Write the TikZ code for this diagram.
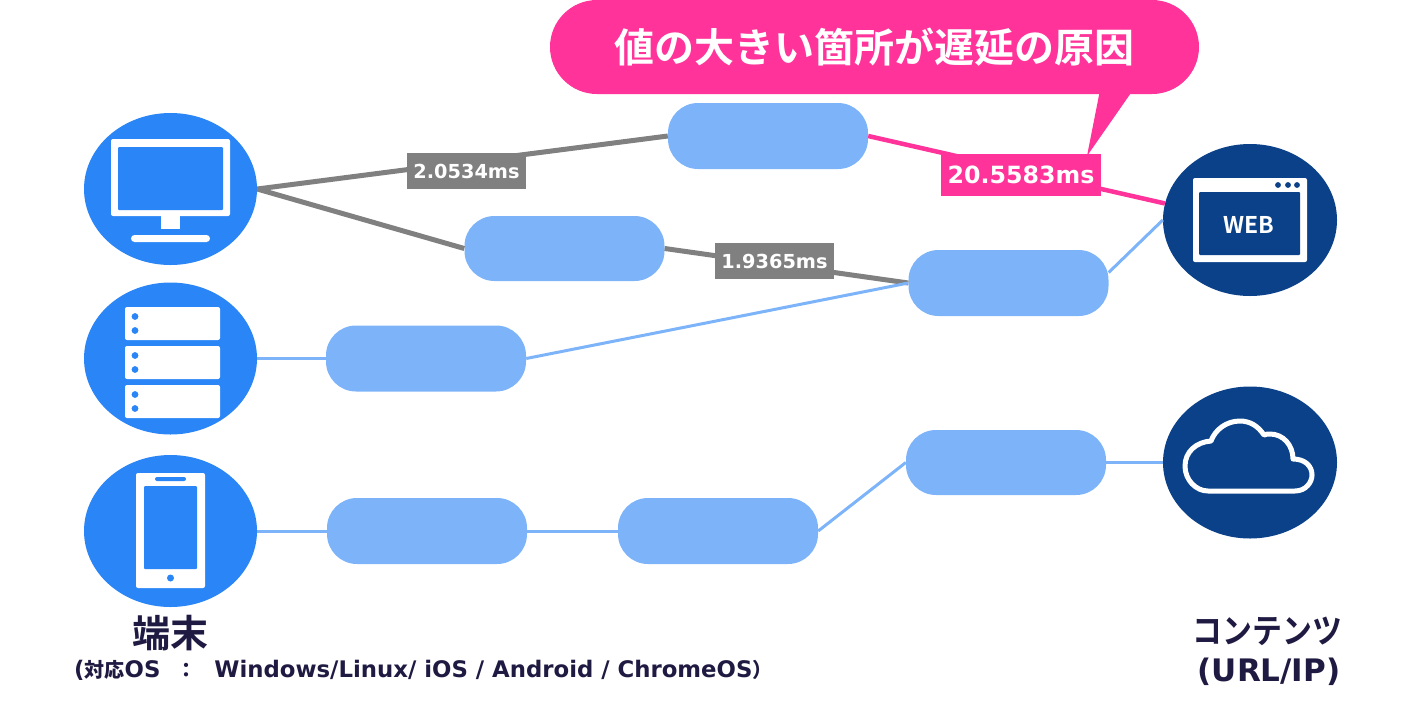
\documentclass[tikz,border=0pt]{standalone}
\usepackage{fontspec}
\usetikzlibrary{shapes.geometric}
\setmainfont{DejaVu Sans}
\newfontfamily\cjk{Noto Sans CJK JP Bold}
\definecolor{devblue}{HTML}{2A85F6}
\definecolor{navy}{HTML}{0A4189}
\definecolor{pale}{HTML}{7DB4F9}
\definecolor{hot}{HTML}{FF3399}
\definecolor{greyline}{HTML}{808080}
\definecolor{ink}{HTML}{1F1A42}
\newcommand{\fs}[1]{\fontsize{#1}{#1}\selectfont}
\tikzset{
  dev/.style={ellipse,fill=devblue,minimum width=173pt,minimum height=152pt,inner sep=0pt},
  dst/.style={ellipse,fill=navy,minimum width=174pt,minimum height=152pt,inner sep=0pt},
  hop/.style={rectangle,fill=pale,rounded corners=30pt,minimum width=200pt,minimum height=66pt,inner sep=0pt},
  paleline/.style={draw=pale,line width=3pt},
  greyl/.style={draw=greyline,line width=5pt},
  hotl/.style={draw=hot,line width=4.5pt},
  msg/.style={rectangle,fill=greyline,text=white,font=\fs{19.3}\bfseries,minimum width=119pt,minimum height=36pt,inner sep=0pt},
  ink1/.style={fill=white,rounded corners=2pt},
  ink2/.style={text=ink,inner sep=0pt}
}
\begin{document}
\begin{tikzpicture}[x=1pt,y=-1pt]
\useasboundingbox (0,0) rectangle (1405,705);
% devices and destinations
\node[dev] (desk) at (170.5,189) {};
\node[dev] (srv) at (170.5,358.5) {};
\node[dev] (phone) at (170.5,531) {};
\node[dst] (web) at (1250,220) {};
\node[dst] (cloud) at (1250,462.5) {};
% hops
\node[hop] (h1) at (768,136) {};
\node[hop,minimum height=65pt] (h2) at (564.5,248.5) {};
\node[hop] (h3) at (1008.5,283) {};
\node[hop] (h4) at (426,358.5) {};
\node[hop] (h5) at (427,531) {};
\node[hop] (h6) at (718,531) {};
\node[hop,minimum height=65pt] (h7) at (1006,462.5) {};
% connectors
\draw[greyl] (desk.east) -- (h1.west);
\draw[greyl] (desk.east) -- (h2.west);
\draw[greyl] (h2.east) -- (h3.west);
\draw[hotl] (h1.east) -- (web.169);
\draw[paleline] (srv.east) -- (h4.west);
\draw[paleline] (h4.east) -- (h3.west);
\draw[paleline] (h3.6) -- (web.west);
\draw[paleline] (phone.east) -- (h5.west);
\draw[paleline] (h5.east) -- (h6.west);
\draw[paleline] (h6.east) -- (h7.west);
\draw[paleline] (h7.east) -- (cloud.west);
% callout
\coordinate (tipA) at (1100,90);
\coordinate (tipB) at (1133,90);
\coordinate (tipC) at (1087,156);
\node[rectangle,fill=hot,rounded corners=47pt,minimum width=649pt,minimum height=94pt,inner sep=0pt,text=white,font=\cjk\fs{40}] (call) at (874.5,47) {値の大きい箇所が遅延の原因};
\fill[hot] (tipA) -- (tipB) -- (tipC) -- cycle;
% delay labels
\node[msg] (m1) at (466.5,171) {2.0534ms};
\node[msg] (m2) at (774.5,261) {1.9365ms};
\node[msg,fill=hot,font=\fs{23.7}\bfseries,minimum width=160pt,minimum height=42pt] (m3) at (1021,175) {20.5583ms};
% desktop icon
\fill[ink1] (111,139) rectangle (230,216);
\fill[devblue,rounded corners=1pt] (118,147) rectangle (223,210);
\fill[white] (161,216) rectangle (180,229);
\fill[white,rounded corners=3.5pt] (131,235) rectangle (210,242);
% server icon
\foreach \t/\u in {307/316.5,346/355.5,385/394.5}{
  \fill[ink1] (125,\t) rectangle (220,\t+33);
  \fill[devblue] (135,\u) circle[radius=3.4pt];
  \fill[devblue] (135,\u+14) circle[radius=3.4pt];
}
% phone icon
\fill[ink1] (136,473) rectangle (205,588);
\fill[devblue,rounded corners=1pt] (144,486) rectangle (197,569);
\fill[devblue,rounded corners=2pt] (155,477) rectangle (186,481);
\fill[devblue] (170.5,578) circle[radius=3.5pt];
% web icon
\fill[ink1] (1193,178) rectangle (1307,262);
\fill[navy,rounded corners=1pt] (1199,192) rectangle (1300,255);
\foreach \x in {1278,1288,1297}{\fill[navy] (\x,185) circle[radius=2.9pt];}
\node[text=white,inner sep=0pt,font=\cjk\fs{23}] (webtxt) at (1249,225) {WEB};
% cloud icon
\draw[white,line width=5pt,line join=round] (1208,491) -- (1295,491)
  .. controls (1306,491) and (1312,482) .. (1312,475)
  .. controls (1312,466) and (1305,459) .. (1293,459)
  .. controls (1293,445) and (1283,434) .. (1270,434)
  .. controls (1268,434) and (1266,434) .. (1264,435)
  .. controls (1258,426) and (1250,421) .. (1240,421)
  .. controls (1226,421) and (1215,430) .. (1211,441)
  .. controls (1196,442) and (1185,452) .. (1185,466)
  .. controls (1185,480) and (1196,491) .. (1208,491) -- cycle;
% captions
\node[ink2,font=\cjk\fs{38}] (t1) at (170,633) {端末};
\node[ink2,font=\bfseries\fs{22.8},anchor=west] (t2) at (74,670) {(\cjk\fs{20}対応\normalfont\bfseries\fs{22.8}OS\hspace{16pt}\cjk\fs{20}：\normalfont\bfseries\fs{22.8}\hspace{18pt}Windows/Linux/ iOS / Android / ChromeOS\cjk\fs{20}）};
\node[ink2,font=\cjk\fs{34}] (t3) at (1267.5,631) {\scalebox{0.88}[1]{コンテンツ}};
\node[ink2,font=\bfseries\fs{31}] (t4) at (1269,672) {(URL/IP)};
\end{tikzpicture}
\end{document}
